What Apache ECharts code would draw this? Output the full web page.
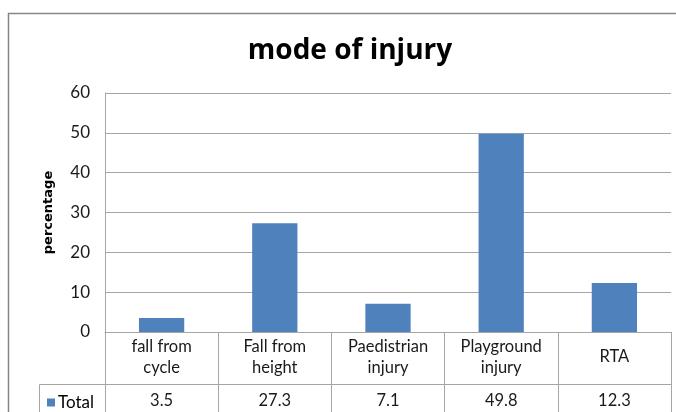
<!DOCTYPE html>
<html>
<head>
<meta charset="utf-8">
<script src="https://cdn.jsdelivr.net/npm/echarts@6/dist/echarts.min.js"></script>
<style>
html,body{margin:0;padding:0;background:#fff;}
#c{width:676px;height:412px;}
</style>
</head>
<body>
<div id="c"></div>
<script>
var categories = ['fall from\ncycle', 'Fall from\nheight', 'Paedistrian\ninjury', 'Playground\ninjury', 'RTA'];
var totals = [3.5, 27.3, 7.1, 49.8, 12.3];
var yTicks = [0, 10, 20, 30, 40, 50, 60];
var seriesName = 'Total';
var titleText = 'mode of injury';
var yName = 'percentage';

var FONT = 'Lato';
var chart = echarts.init(document.getElementById('c'));
var gridCol = '#a6a6a6';
chart.setOption({
  animation: false,
  title: {
    text: titleText,
    left: 345, textAlign: 'center', top: 32,
    textStyle: {fontFamily: 'Open Sans', fontSize: 28, fontWeight: 'bold', color: '#000'}
  },
  legend: {
    data: [seriesName], left: 42, top: 389, icon: 'rect', itemWidth: 8, itemHeight: 8, itemGap: 4,
    textStyle: {fontFamily: FONT, fontSize: 17, color: '#000', padding: [0,0,0,-2]}
  },
  grid: {left: 105, right: 5, top: 93, bottom: 80},
  xAxis: [{
    type: 'category', data: categories,
    axisLine: {show: true, lineStyle: {color: gridCol}},
    axisTick: {show: true, length: 80, lineStyle: {color: gridCol}},
    axisLabel: {
      margin: 4, interval: 0,
      formatter: function (v, i) {
        var parts = v.split('\n');
        var top = parts.length > 1 ? parts.map(function (p) { return '{c|' + p + '}'; }).join('\n') : '{c1|' + v + '}';
        return top + '\n{v|' + totals[i] + '}';
      },
      rich: {
        c: {fontFamily: FONT, fontSize: 16.5, color: '#1a1a1a', lineHeight: 21},
        c1: {fontFamily: FONT, fontSize: 16.5, color: '#1a1a1a', lineHeight: 42},
        v: {fontFamily: FONT, fontSize: 16.5, color: '#1a1a1a', lineHeight: 46}
      }
    }
  }, {
    type: 'category', data: categories, position: 'bottom', offset: 52,
    axisLine: {show: true, lineStyle: {color: gridCol}},
    axisTick: {show: false}, axisLabel: {show: false}
  }],
  yAxis: {
    type: 'value', min: yTicks[0], max: yTicks[yTicks.length - 1], interval: 10,
    name: yName, nameLocation: 'middle', nameGap: 50,
    nameTextStyle: {fontFamily: 'DejaVu Sans', fontSize: 13, fontWeight: 'bold', color: '#000'},
    axisLine: {show: true, lineStyle: {color: gridCol}},
    axisTick: {show: false},
    axisLabel: {margin: 15, fontFamily: FONT, fontSize: 17, color: '#1a1a1a'},
    splitLine: {lineStyle: {color: gridCol}}
  },
  graphic: [
    {type: 'rect', shape: {x: 8.5, y: 13.5, width: 800, height: 600}, style: {fill: 'none', stroke: '#878787', lineWidth: 1.5}, silent: true, z: -1},
    {type: 'line', shape: {x1: 39.5, y1: 384.5, x2: 105, y2: 384.5}, style: {stroke: gridCol, lineWidth: 1}},
    {type: 'line', shape: {x1: 39.5, y1: 384.5, x2: 39.5, y2: 412}, style: {stroke: gridCol, lineWidth: 1}}
  ],
  series: [{
    name: seriesName, type: 'bar', data: totals, barWidth: '40%', xAxisIndex: 0,
    itemStyle: {color: '#4f81bd'}
  }]
});
</script>
</body>
</html>
